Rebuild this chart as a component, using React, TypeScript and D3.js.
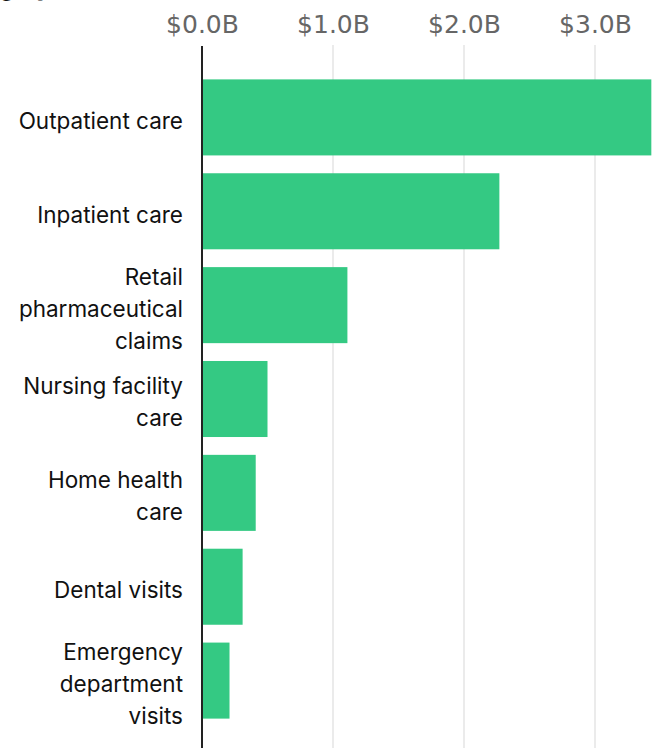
import React, { useEffect, useRef } from 'react';
import * as d3 from 'd3';

const categories = [
    'Outpatient care',
    'Inpatient care',
    'Retail pharmaceutical claims',
    'Nursing facility care',
    'Home health care',
    'Dental visits',
    'Emergency department visits',
];
// spending in billions of dollars
const spending = [3.43, 2.27, 1.11, 0.5, 0.41, 0.31, 0.21];
const tickValues = [0, 1, 2, 3];
const title = 'by category';

const WIDTH = 653;
const HEIGHT = 748;

export default function App() {
    const svgRef = useRef<SVGSVGElement>(null);

    useEffect(() => {
        if (!svgRef.current) return;
        const svg = d3.select(svgRef.current);
        svg.selectAll('*').remove();

        const data = categories.map((c, i) => ({ category: c, value: spending[i] }));

        const x = d3.scaleLinear().domain([0, 3.5]).range([202, 660.5]);
        const y = d3.scaleBand<string>()
            .domain(categories)
            .range([70, 728])
            .paddingInner(0.19)
            .paddingOuter(0.1);

        // cut-off title at the top
        svg.append('text')
            .attr('x', 50)
            .attr('y', -4)
            .attr('text-anchor', 'end')
            .attr('font-family', 'Inter, sans-serif')
            .attr('font-weight', 700)
            .attr('font-size', 22)
            .attr('fill', '#111')
            .text(title);

        // grid lines
        svg.append('g')
            .selectAll('line')
            .data(tickValues.filter(d => d > 0))
            .join('line')
            .attr('x1', d => x(d))
            .attr('x2', d => x(d))
            .attr('y1', 45)
            .attr('y2', HEIGHT)
            .attr('stroke', '#e4e4e4')
            .attr('stroke-width', 1.5);

        // top axis
        const axis = svg.append('g')
            .attr('transform', 'translate(0,46)')
            .call(d3.axisTop(x).tickValues(tickValues).tickSize(0).tickPadding(13)
                .tickFormat(d => `$${(d as number).toFixed(1)}B`));
        axis.select('.domain').remove();
        axis.selectAll('text')
            .attr('font-family', '"DejaVu Sans", sans-serif')
            .attr('font-size', 25)
            .attr('fill', '#666');

        // bars
        svg.append('g')
            .selectAll('rect')
            .data(data)
            .join('rect')
            .attr('x', x(0))
            .attr('y', d => y(d.category)!)
            .attr('width', d => x(d.value) - x(0))
            .attr('height', y.bandwidth())
            .attr('fill', '#34c983');

        // zero line
        svg.append('line')
            .attr('x1', x(0))
            .attr('x2', x(0))
            .attr('y1', 46)
            .attr('y2', HEIGHT)
            .attr('stroke', '#222')
            .attr('stroke-width', 2);

        // category labels, wrapped
        const maxWidth = 166;
        const lineHeight = 32;
        const labels = svg.append('g')
            .attr('font-family', 'Inter, sans-serif')
            .attr('font-size', 22.5)
            .attr('fill', '#111')
            .attr('text-anchor', 'end');

        data.forEach(d => {
            const text = labels.append('text').attr('x', 183);
            const words = d.category.split(' ');
            const lines: string[] = [];
            let current: string[] = [];
            const probe = text.append('tspan');
            words.forEach(w => {
                const attempt = [...current, w].join(' ');
                probe.text(attempt);
                if ((probe.node() as SVGTSpanElement).getComputedTextLength() > maxWidth && current.length) {
                    lines.push(current.join(' '));
                    current = [w];
                } else {
                    current.push(w);
                }
            });
            if (current.length) lines.push(current.join(' '));
            probe.remove();

            const cy = y(d.category)! + y.bandwidth() / 2 + 3.5;
            lines.forEach((line, i) => {
                text.append('tspan')
                    .attr('x', 183)
                    .attr('y', cy + (i - (lines.length - 1) / 2) * lineHeight)
                    .attr('dy', '0.35em')
                    .text(line);
            });
        });
    }, []);

    return (
        <svg
            ref={svgRef}
            width={WIDTH}
            height={HEIGHT}
            style={{ position: 'absolute', left: 0, top: 0, overflow: 'hidden', background: '#fff' }}
        />
    );
}
